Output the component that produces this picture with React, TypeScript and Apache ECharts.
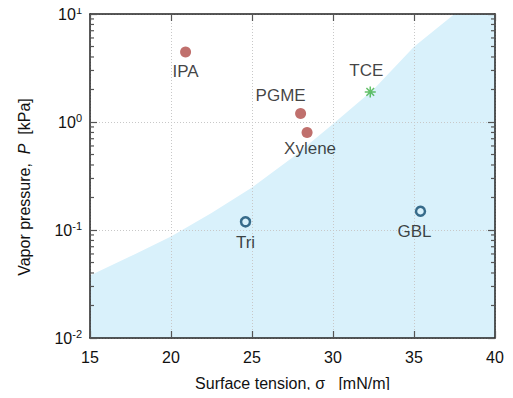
import React, { useEffect, useRef } from "react";
import * as echarts from "echarts";

// ---- data ----
const redNames = ["IPA", "PGME", "Xylene"];
const redSigma = [20.9, 28.0, 28.4];
const redP = [4.45, 1.2, 0.8];

const openNames = ["Tri", "GBL"];
const openSigma = [24.6, 35.4];
const openP = [0.119, 0.149];

const starNames = ["TCE"];
const starSigma = [32.3];
const starP = [1.9];

const boundarySigma = [15, 17.5, 20, 22.5, 25, 27.5, 30, 32.5, 35, 37.5, 40];
const boundaryP = [0.038, 0.057, 0.087, 0.144, 0.248, 0.47, 0.96, 2.0, 4.98, 10, 20];

const xMin = 15;
const xMax = 40;
const xStep = 5;
const yMin = 0.01;
const yMax = 10;
const minorTickValues = [
  0.02, 0.03, 0.04, 0.05, 0.06, 0.07, 0.08, 0.09,
  0.2, 0.3, 0.4, 0.5, 0.6, 0.7, 0.8, 0.9,
  2, 3, 4, 5, 6, 7, 8, 9,
];

// label offsets (style)
const labelStyle: Record<string, { position: string; offset: [number, number] }> = {
  IPA: { position: "bottom", offset: [0, 2] },
  PGME: { position: "top", offset: [-20, 0] },
  Xylene: { position: "bottom", offset: [3, -2] },
  TCE: { position: "top", offset: [-4, -1] },
  Tri: { position: "bottom", offset: [0, 2] },
  GBL: { position: "bottom", offset: [-6, 2] },
};

const FONT = "'Liberation Sans', Arial, sans-serif";
const TEXT = "#111";

function pts(names: string[], xs: number[], ys: number[]) {
  return names.map((n, i) => ({
    name: n,
    value: [xs[i], ys[i]],
    label: {
      show: true,
      formatter: n,
      position: labelStyle[n].position,
      offset: labelStyle[n].offset,
      fontSize: 17,
      fontFamily: FONT,
      color: TEXT,
      distance: 4,
    },
  }));
}

export default function App() {
  const ref = useRef<HTMLDivElement>(null);
  useEffect(() => {
    if (!ref.current) return;
    const chart = echarts.init(ref.current, undefined, { renderer: "svg" });
    const axisLine = { show: true, lineStyle: { color: "#222", width: 1.5 } };
    const tick = { show: true, inside: true, length: 7, lineStyle: { color: "#555", width: 1.2 } };
    const gridLine = { show: true, lineStyle: { color: "#c8c8c8", type: [1, 2] as any, width: 1 } };
    chart.setOption({
      animation: false,
      backgroundColor: "#fff",
      grid: { left: 90, right: 18, top: 14, bottom: 60, containLabel: false },
      xAxis: [
        {
          type: "value",
          min: xMin,
          max: xMax,
          interval: xStep,
          z: 3,
          axisLine,
          axisTick: tick,
          axisLabel: { fontSize: 16, fontFamily: FONT, color: TEXT, margin: 11 },
          splitLine: gridLine,
          name: "Surface tension, σ   [mN/m]",
          nameLocation: "middle",
          nameGap: 37,
          nameTextStyle: { fontSize: 16, fontFamily: FONT, color: TEXT },
        },
        {
          type: "value",
          position: "top",
          min: xMin,
          max: xMax,
          interval: xStep,
          z: 3,
          axisLine,
          axisTick: tick,
          axisLabel: { show: false },
          splitLine: { show: false },
        },
      ],
      yAxis: [
        {
          type: "log",
          logBase: 10,
          min: yMin,
          max: yMax,
          z: 3,
          axisLine,
          axisTick: tick,
          minorTick: { show: false },
          axisLabel: {
            fontFamily: FONT,
            color: TEXT,
            margin: 8,
            formatter: (v: number) => `{b|10}{s|${Math.round(Math.log10(v))}}`,
            rich: {
              b: { fontSize: 16, fontFamily: FONT, color: TEXT, lineHeight: 20 },
              s: { fontSize: 11, fontFamily: FONT, color: TEXT, lineHeight: 20, padding: [0, 0, 9, 0] },
            },
          },
          splitLine: gridLine,
          name: "Vapor pressure,  {i|P}  [kPa]",
          nameLocation: "middle",
          nameGap: 58,
          nameTextStyle: {
            fontSize: 16,
            fontFamily: FONT,
            color: TEXT,
            padding: [0, 22, 0, 0],
            rich: { i: { fontSize: 16, fontFamily: FONT, fontStyle: "italic", color: TEXT } },
          },
        },
        {
          type: "log",
          logBase: 10,
          min: yMin,
          max: yMax,
          position: "right",
          z: 3,
          axisLine,
          axisTick: tick,
          axisLabel: { show: false },
          splitLine: { show: false },
        },
      ],
      series: [
        {
          type: "line",
          data: boundarySigma.map((s, i) => [s, boundaryP[i]]),
          smooth: false,
          symbol: "none",
          clip: true,
          lineStyle: { width: 0 },
          areaStyle: { color: "#d9f1fb", opacity: 1, origin: "start" },
          z: 1,
          silent: true,
        },
        {
          type: "custom",
          z: 4,
          silent: true,
          clip: false,
          data: minorTickValues.map((v) => [xMin, v]),
          encode: { x: 0, y: 1 },
          renderItem: (params: any, api: any) => {
            const cs = params.coordSys;
            const y = api.coord([xMin, api.value(1)])[1];
            const style = { stroke: "#555", lineWidth: 1.2 };
            return {
              type: "group",
              children: [
                { type: "line", shape: { x1: cs.x, y1: y, x2: cs.x + 4, y2: y }, style },
                { type: "line", shape: { x1: cs.x + cs.width - 4, y1: y, x2: cs.x + cs.width, y2: y }, style },
              ],
            };
          },
        },
        {
          type: "scatter",
          z: 5,
          symbol: "circle",
          symbolSize: 11,
          itemStyle: { color: "#b04c48" },
          data: pts(redNames, redSigma, redP),
        },
        {
          type: "scatter",
          z: 5,
          symbol: "circle",
          symbolSize: 9,
          itemStyle: { color: "rgba(255,255,255,0)", borderColor: "#0e4a6e", borderWidth: 2.5 },
          data: pts(openNames, openSigma, openP),
        },
        {
          type: "scatter",
          z: 5,
          symbol: "path://M-1,0 L1,0 M0,-1 L0,1 M-0.7,-0.7 L0.7,0.7 M-0.7,0.7 L0.7,-0.7",
          symbolSize: 11,
          itemStyle: { color: "none", borderColor: "#3cb043", borderWidth: 1.5 },
          data: pts(starNames, starSigma, starP),
        },
      ],
    });
    return () => chart.dispose();
  }, []);
  return <div ref={ref} style={{ width: 513, height: 398, margin: -8 }} />;
}
